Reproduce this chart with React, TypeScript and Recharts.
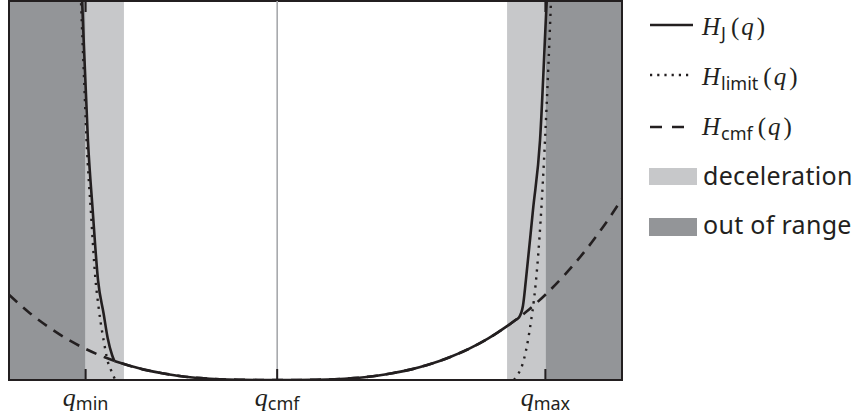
import React from "react";
import {
  LineChart,
  Line,
  XAxis,
  YAxis,
  ReferenceArea,
  ReferenceLine,
  Legend,
} from "recharts";

// colours
const INK = "#231f20";
const DARK_GRAY = "#939598";
const LIGHT_GRAY = "#c7c8ca";
const CENTER_GRAY = "#a7a9ac";

const MATH_FONT = "'Liberation Serif', serif";
const TEXT_FONT = "'Noto Sans', sans-serif";

// q axis: positions of the marked speeds and the shaded bands
const qDomain = [-1.4, 1.8];
const qMin = -1;
const qCmf = 0;
const qMax = 1.4;
const decelLeft = [-1, -0.8];
const decelRight = [1.2, 1.4];
const outLeft = [-1.4, -1];
const outRight = [1.4, 1.8];
const tickValues = [qMin, qCmf, qMax];
const tickSubs = ["min", "cmf", "max"];

// H_cmf(q), dashed
const cmfQ = [
  -1.4, -1.3, -1.2, -1.1, -1.0, -0.9, -0.8, -0.7, -0.6, -0.5, -0.4, -0.3, -0.2,
  -0.1, 0, 0.1, 0.2, 0.3, 0.4, 0.5, 0.6, 0.7, 0.8, 0.9, 1.0, 1.1, 1.2, 1.3, 1.4,
  1.5, 1.6, 1.7, 1.8,
];
const cmfH = [
  22.5, 18.0, 14.2, 10.9, 8.2, 6.0, 4.2, 2.8, 1.8, 1.0, 0.5, 0.2, 0.07, 0.01, 0,
  0.01, 0.07, 0.2, 0.5, 1.0, 1.8, 2.8, 4.2, 6.0, 8.2, 10.9, 14.2, 18.0, 22.5,
  27.7, 33.6, 40.3, 47.8,
];

// H_limit(q), dotted, two branches
const limitLeftQ = [
  -1.031, -1.024, -1.01, -0.995, -0.972, -0.948, -0.933, -0.921, -0.905, -0.885,
  -0.869, -0.856, -0.845,
];
const limitLeftH = [110, 99.7, 82, 63.2, 44, 26.2, 19.5, 15.0, 10.2, 5.0, 2.8, 1.2, 0];
const limitRightQ = [
  1.236, 1.25, 1.267, 1.283, 1.298, 1.311, 1.325, 1.34, 1.351, 1.375, 1.398,
  1.415, 1.429, 1.436,
];
const limitRightH = [0, 1.0, 2.4, 4.5, 7.6, 11.0, 15.5, 21.0, 26.2, 42.0, 63.2, 82.0, 99.7, 110];

// H_J(q), solid: left branch, middle part, right branch
const jLeftQ = [-1.026, -1.018, -0.988, -0.963, -0.935, -0.906, -0.885, -0.862, -0.85];
const jLeftH = [110, 99.7, 63.2, 44.7, 26.2, 17.5, 11.1, 6.6, 5.0];
const jMidQ = [
  -0.85, -0.8, -0.7, -0.6, -0.5, -0.4, -0.3, -0.2, -0.1, 0, 0.1, 0.2, 0.3, 0.4,
  0.5, 0.6, 0.7, 0.8, 0.9, 1.0, 1.1, 1.2, 1.246,
];
const jMidH = [
  5.0, 4.2, 2.8, 1.8, 1.0, 0.5, 0.2, 0.07, 0.01, 0, 0.01, 0.07, 0.2, 0.5, 1.0,
  1.8, 2.8, 4.2, 6.0, 8.2, 10.9, 14.2, 15.9,
];
const jRightQ = [1.246, 1.262, 1.283, 1.298, 1.335, 1.372, 1.406, 1.417];
const jRightH = [15.9, 16.5, 19.6, 26.2, 44.7, 63.2, 98.9, 110];

type Row = { q: number; [key: string]: number };

const rows: Row[] = [];
const addSeries = (key: string, qs: number[], hs: number[]) => {
  qs.forEach((q, i) => rows.push({ q, [key]: hs[i] }));
};
addSeries("cmf", cmfQ, cmfH);
addSeries("limitL", limitLeftQ, limitLeftH);
addSeries("limitR", limitRightQ, limitRightH);
addSeries("jL", jLeftQ, jLeftH);
addSeries("jM", jMidQ, jMidH);
addSeries("jR", jRightQ, jRightH);
rows.sort((a, b) => a.q - b.q);

const QTick = (props: any) => {
  const { x, y, payload } = props;
  const idx = tickValues.indexOf(payload.value);
  return (
    <text x={x} y={y + 18} textAnchor="middle" fill={INK}>
      <tspan fontFamily={MATH_FONT} fontStyle="italic" fontSize={26}>
        q
      </tspan>
      <tspan fontFamily={TEXT_FONT} fontSize={18} dy={4}>
        {tickSubs[idx]}
      </tspan>
    </text>
  );
};

const HLabel = ({ x, y, sub }: { x: number; y: number; sub: string }) => (
  <text x={x} y={y} fill={INK}>
    <tspan fontFamily={MATH_FONT} fontStyle="italic" fontSize={25}>
      H
    </tspan>
    <tspan fontFamily={TEXT_FONT} fontSize={18} dx={1} dy={5}>
      {sub}
    </tspan>
    <tspan fontFamily={MATH_FONT} fontSize={25} dx={5} dy={-5}>
      (
    </tspan>
    <tspan fontFamily={MATH_FONT} fontStyle="italic" fontSize={25} dx={2}>
      q
    </tspan>
    <tspan fontFamily={MATH_FONT} fontSize={25} dx={3}>
      )
    </tspan>
  </text>
);

const LegendBox = () => (
  <svg width={209} height={250} style={{ display: "block" }}>
    <line x1={2} x2={45} y1={25} y2={25} stroke={INK} strokeWidth={2.6} />
    <HLabel x={54} y={35} sub="J" />
    <line
      x1={2}
      x2={45}
      y1={75}
      y2={75}
      stroke={INK}
      strokeWidth={2.4}
      strokeDasharray="2.2 5"
    />
    <HLabel x={54} y={85} sub="limit" />
    <line
      x1={2}
      x2={45}
      y1={127}
      y2={127}
      stroke={INK}
      strokeWidth={2.6}
      strokeDasharray="12 10"
    />
    <HLabel x={54} y={135} sub="cmf" />
    <rect x={1} y={168} width={48} height={17} fill={LIGHT_GRAY} />
    <text
      x={55}
      y={185}
      fontFamily={TEXT_FONT}
      fontSize={25}
      letterSpacing={0.3}
      fill={INK}
    >
      deceleration
    </text>
    <rect x={1} y={218} width={48} height={18} fill={DARK_GRAY} />
    <text
      x={55}
      y={234}
      fontFamily={TEXT_FONT}
      fontSize={25}
      letterSpacing={0.3}
      fill={INK}
    >
      out of range
    </text>
  </svg>
);

export default function App() {
  return (
    <div
      style={{
        position: "absolute",
        left: 0,
        top: 0,
        width: 857,
        height: 419,
        background: "#fff",
      }}
    >
      <LineChart
        width={857}
        height={419}
        data={rows}
        margin={{ top: 1, right: 235, left: 9, bottom: 0 }}
      >
        <XAxis
          dataKey="q"
          type="number"
          domain={qDomain}
          allowDataOverflow
          ticks={tickValues}
          tick={<QTick />}
          tickLine={false}
          axisLine={{ stroke: INK, strokeWidth: 2 }}
          height={39}
          interval={0}
        />
        <YAxis type="number" domain={[0, 100]} allowDataOverflow hide />

        <ReferenceArea x1={outLeft[0]} x2={outLeft[1]} y1={0} y2={100} fill={DARK_GRAY} fillOpacity={1} stroke="none" />
        <ReferenceArea x1={outRight[0]} x2={outRight[1]} y1={0} y2={100} fill={DARK_GRAY} fillOpacity={1} stroke="none" />
        <ReferenceArea x1={decelLeft[0]} x2={decelLeft[1]} y1={0} y2={100} fill={LIGHT_GRAY} fillOpacity={1} stroke="none" />
        <ReferenceArea x1={decelRight[0]} x2={decelRight[1]} y1={0} y2={100} fill={LIGHT_GRAY} fillOpacity={1} stroke="none" />
        <ReferenceArea
          x1={qDomain[0]}
          x2={qDomain[1]}
          y1={0}
          y2={100}
          fill="none"
          stroke={INK}
          strokeWidth={2}
        />

        <ReferenceLine x={qCmf} stroke={CENTER_GRAY} strokeWidth={1.6} />
        {tickValues.map((t) => (
          <ReferenceLine
            key={`b-${t}`}
            segment={[
              { x: t, y: 0 },
              { x: t, y: 2.9 },
            ]}
            stroke={INK}
            strokeWidth={2}
          />
        ))}
        {[qMin, qMax].map((t) => (
          <ReferenceLine
            key={`t-${t}`}
            segment={[
              { x: t, y: 97.1 },
              { x: t, y: 100 },
            ]}
            stroke={INK}
            strokeWidth={2}
          />
        ))}

        <Line
          dataKey="cmf"
          type="monotone"
          stroke={INK}
          strokeWidth={2.6}
          strokeDasharray="11 8"
          dot={false}
          connectNulls
          isAnimationActive={false}
        />
        <Line
          dataKey="limitL"
          type="monotone"
          stroke={INK}
          strokeWidth={2.4}
          strokeDasharray="2.2 5.8"
          dot={false}
          connectNulls
          isAnimationActive={false}
        />
        <Line
          dataKey="limitR"
          type="monotone"
          stroke={INK}
          strokeWidth={2.4}
          strokeDasharray="2.2 5.8"
          dot={false}
          connectNulls
          isAnimationActive={false}
        />
        <Line
          dataKey="jL"
          type="monotone"
          stroke={INK}
          strokeWidth={2.6}
          dot={false}
          connectNulls
          isAnimationActive={false}
        />
        <Line
          dataKey="jM"
          type="monotone"
          stroke={INK}
          strokeWidth={2.6}
          dot={false}
          connectNulls
          isAnimationActive={false}
        />
        <Line
          dataKey="jR"
          type="monotone"
          stroke={INK}
          strokeWidth={2.6}
          dot={false}
          connectNulls
          isAnimationActive={false}
        />

        <Legend
          layout="vertical"
          align="center"
          verticalAlign="middle"
          content={() => <LegendBox />}
          wrapperStyle={{ left: 648, top: 0, width: 209 }}
        />
      </LineChart>
    </div>
  );
}
